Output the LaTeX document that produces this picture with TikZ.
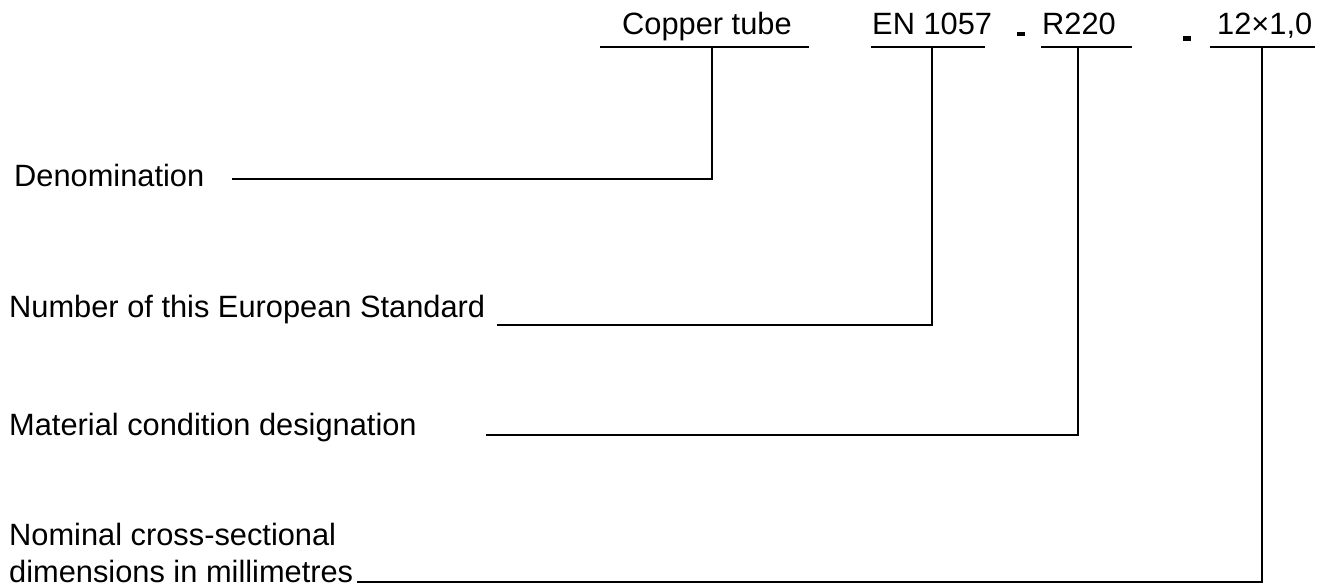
\documentclass[tikz,border=0pt]{standalone}
\usepackage{fontspec}
\setmainfont{Liberation Sans}
\begin{document}
\begin{tikzpicture}[x=1pt,y=-1pt,
  lbl/.style={inner sep=0pt, anchor=base west, font=\fontsize{30.8}{37}\selectfont},
  ln/.style={line width=2pt, line cap=rect, line join=miter}]
\useasboundingbox (0,0) rectangle (1322,588);
% top labels
\node[lbl] (ct) at (622,35) {Copper tube};
\node[lbl] (en) at (872,35) {EN 1057};
\node[lbl] (rr) at (1042,35) {R220};
\node[lbl] (dim) at (1217,35) {12×1,0};
% separators
\fill (1017,32) rectangle (1025,36);
\fill (1183,36) rectangle (1191,41);
% left labels
\node[lbl] (den) at (14,187) {Denomination};
\node[lbl] (num) at (9,317) {Number of this European Standard};
\node[lbl] (mat) at (9,435) {Material condition designation};
\node[lbl] (nom) at (9,545) {Nominal cross-sectional};
\node[lbl] (nomb) at (9,582) {dimensions in millimetres};
% underlines
\coordinate (ctL) at (601,47); \coordinate (ctR) at (808,47); \coordinate (ctM) at (712,47);
\coordinate (enL) at (872,47); \coordinate (enR) at (984,47); \coordinate (enM) at (932,47);
\coordinate (rrL) at (1042,47); \coordinate (rrR) at (1131,47); \coordinate (rrM) at (1078,47);
\coordinate (dmL) at (1211,47); \coordinate (dmR) at (1314,47); \coordinate (dmM) at (1262,47);
\draw[ln] (ctL) -- (ctR);
\draw[ln] (enL) -- (enR);
\draw[ln] (rrL) -- (rrR);
\draw[ln] (dmL) -- (dmR);
% leader start points
\coordinate (denS) at (233,179);
\coordinate (numS) at (498,325);
\coordinate (matS) at (487,435);
\coordinate (nomS) at (358,582);
% connectors
\draw[ln] (ctM) |- (denS);
\draw[ln] (enM) |- (numS);
\draw[ln] (rrM) |- (matS);
\draw[ln] (dmM) |- (nomS);
\end{tikzpicture}
\end{document}
